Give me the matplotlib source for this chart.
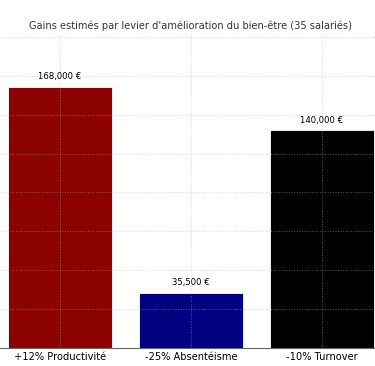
import matplotlib.pyplot as plt

categories = ["+12% Productivité", "-25% Absentéisme", "-10% Turnover"]
gains = [168000, 35500, 140000]
colors = ["darkred", "navy", "black"]

fig = plt.figure(figsize=(3.75, 3.66), dpi=100)
ax = fig.add_axes([0, 0.049, 1, 0.857])

x = range(len(categories))
ax.bar(x, gains, width=0.8, color=colors, edgecolor="white", linewidth=0.6, zorder=2)

for i, v in enumerate(gains):
    ax.text(i, v + 3500, f"{v:,} €", ha="center", va="bottom", fontsize=6.1)

ax.set_xticks(list(x))
ax.set_xticklabels(categories, fontsize=7.1)
ax.set_yticks(range(0, 225000, 25000))
ax.set_yticklabels([])
ax.tick_params(axis="both", length=0, pad=3)
ax.set_xlim(-0.458, 2.405)
ax.set_ylim(0, max(gains) * 1.2)
ax.grid(True, linestyle=":", color="#b0b0b0", alpha=0.5, linewidth=0.7, zorder=3)
ax.set_axisbelow(False)
for s in ["top", "left", "right"]:
    ax.spines[s].set_visible(False)
ax.spines["bottom"].set_color("#666666")
ax.set_title("Gains estimés par levier d'amélioration du bien-être (35 salariés)",
             fontsize=7.1, color="#333333", pad=4, x=0.508)

fig.savefig("out.png", dpi=100)
